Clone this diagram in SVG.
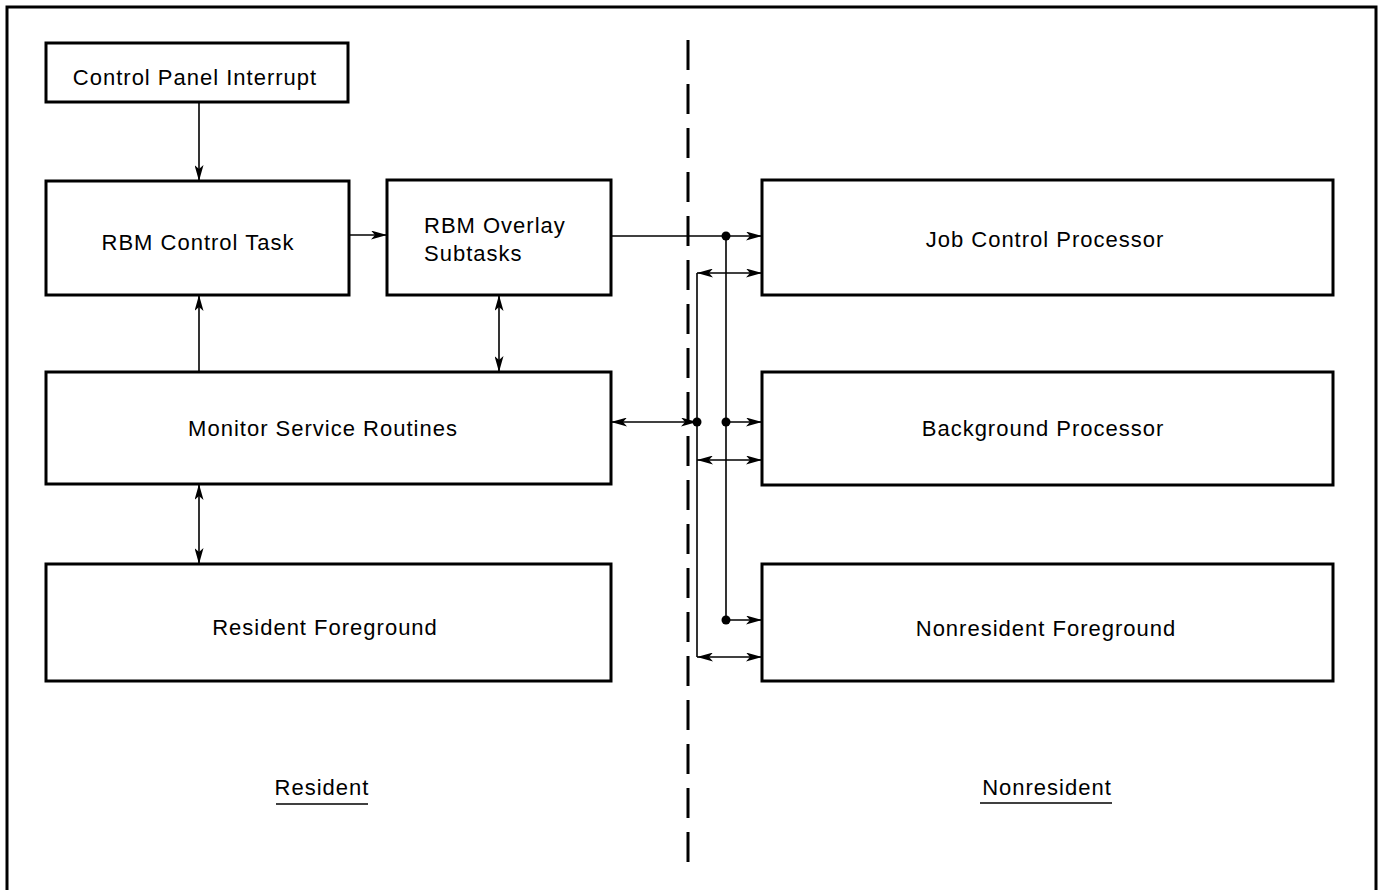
<svg xmlns="http://www.w3.org/2000/svg" width="1385" height="890" viewBox="0 0 1385 890">
<style>
.box{fill:#fff;stroke:#000;stroke-width:3}
.lbl{font-family:"Liberation Sans",Arial,sans-serif;font-size:22px;letter-spacing:1px;fill:#000;text-anchor:middle}
.ln{fill:none;stroke:#000;stroke-width:1.6}
.dot{fill:#000}
</style>
<defs>
<marker id="ah" viewBox="0 0 16 9" refX="16" refY="4.5" markerWidth="16" markerHeight="9" markerUnits="userSpaceOnUse" orient="auto-start-reverse">
<path d="M0,0 L16,4.5 L0,9 L4,4.5 Z" fill="#000"/>
</marker>
</defs>
<path d="M7,900 V7 H1376 V900" fill="none" stroke="#000" stroke-width="3"/>
<line x1="688" y1="40" x2="688" y2="872" stroke="#000" stroke-width="3" stroke-dasharray="30 14"/>

<g id="cpi"><rect class="box" x="46" y="43" width="302" height="59"/><text class="lbl" x="195" y="85">Control Panel Interrupt</text></g>
<g id="rbmct"><rect class="box" x="46" y="181" width="303" height="114"/><text class="lbl" x="198" y="250">RBM Control Task</text></g>
<g id="rbmos"><rect class="box" x="387" y="180" width="224" height="115"/><text class="lbl" x="424" y="233" style="text-anchor:start">RBM Overlay</text><text class="lbl" x="424" y="261" style="text-anchor:start">Subtasks</text></g>
<g id="msr"><rect class="box" x="46" y="372" width="565" height="112"/><text class="lbl" x="323" y="436">Monitor Service Routines</text></g>
<g id="rf"><rect class="box" x="46" y="564" width="565" height="117"/><text class="lbl" x="325" y="635">Resident Foreground</text></g>
<g id="jcp"><rect class="box" x="762" y="180" width="571" height="115"/><text class="lbl" x="1045" y="247">Job Control Processor</text></g>
<g id="bp"><rect class="box" x="762" y="372" width="571" height="113"/><text class="lbl" x="1043" y="436">Background Processor</text></g>
<g id="nrf"><rect class="box" x="762" y="564" width="571" height="117"/><text class="lbl" x="1046" y="636">Nonresident Foreground</text></g>

<g id="resident"><text class="lbl" x="322" y="795">Resident</text><line x1="276" y1="804" x2="368" y2="804" stroke="#000" stroke-width="1.6"/></g>
<g id="nonresident"><text class="lbl" x="1047" y="795">Nonresident</text><line x1="980" y1="803" x2="1112" y2="803" stroke="#000" stroke-width="1.6"/></g>

<g id="connectors">
<line class="ln" x1="199" y1="102" x2="199" y2="181" marker-end="url(#ah)"/>
<line class="ln" x1="349" y1="235" x2="387" y2="235" marker-end="url(#ah)"/>
<line class="ln" x1="199" y1="372" x2="199" y2="295" marker-end="url(#ah)"/>
<line class="ln" x1="499" y1="295" x2="499" y2="372" marker-start="url(#ah)" marker-end="url(#ah)"/>
<line class="ln" x1="199" y1="484" x2="199" y2="564" marker-start="url(#ah)" marker-end="url(#ah)"/>
<line class="ln" x1="611" y1="236" x2="762" y2="236" marker-end="url(#ah)"/>
<line class="ln" x1="726" y1="236" x2="726" y2="620"/>
<line class="ln" x1="726" y1="422" x2="762" y2="422" marker-end="url(#ah)"/>
<line class="ln" x1="726" y1="620" x2="762" y2="620" marker-end="url(#ah)"/>
<line class="ln" x1="611" y1="422" x2="697" y2="422" marker-start="url(#ah)" marker-end="url(#ah)"/>
<line class="ln" x1="697" y1="273" x2="697" y2="657"/>
<line class="ln" x1="697" y1="273" x2="762" y2="273" marker-start="url(#ah)" marker-end="url(#ah)"/>
<line class="ln" x1="697" y1="460" x2="762" y2="460" marker-start="url(#ah)" marker-end="url(#ah)"/>
<line class="ln" x1="697" y1="657" x2="762" y2="657" marker-start="url(#ah)" marker-end="url(#ah)"/>
<circle class="dot" cx="726" cy="236" r="4.5"/>
<circle class="dot" cx="726" cy="422" r="4.5"/>
<circle class="dot" cx="726" cy="620" r="4.5"/>
<circle class="dot" cx="697" cy="422" r="4.5"/>
</g>
</svg>
